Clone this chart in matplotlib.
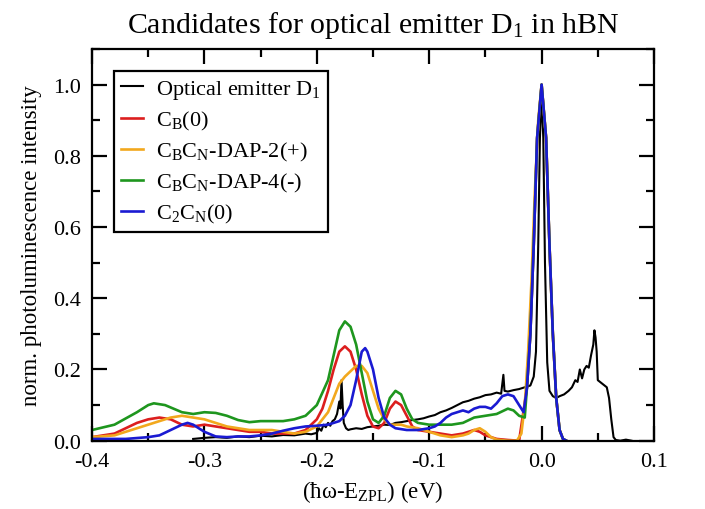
import matplotlib
matplotlib.use("Agg")
import matplotlib.pyplot as plt
from matplotlib.ticker import MultipleLocator, FuncFormatter

plt.rcParams['font.family'] = ['Liberation Serif', 'DejaVu Serif']
plt.rcParams['mathtext.fontset'] = 'custom'
plt.rcParams['mathtext.rm'] = 'Liberation Serif'
plt.rcParams['mathtext.it'] = 'Liberation Serif:italic'
plt.rcParams['mathtext.bf'] = 'Liberation Serif:bold'

# ---------------- data ----------------
black_x = [-0.31, -0.30, -0.29, -0.28, -0.27, -0.26, -0.25, -0.24, -0.23, -0.22, -0.21, -0.205,
           -0.20, -0.198, -0.196, -0.194, -0.192, -0.19, -0.188, -0.186, -0.184, -0.182, -0.180,
           -0.179, -0.178, -0.177, -0.176, -0.174, -0.172, -0.17, -0.165, -0.16, -0.155, -0.15,
           -0.145, -0.14, -0.135, -0.13, -0.125, -0.12, -0.115, -0.11, -0.105, -0.10, -0.095,
           -0.09, -0.085, -0.08, -0.075, -0.07, -0.065, -0.06, -0.055, -0.05, -0.045, -0.04,
           -0.036, -0.034, -0.033, -0.03, -0.025, -0.02, -0.015, -0.01, -0.007, -0.005, -0.003,
           -0.0015, 0.0, 0.0015, 0.003, 0.005, 0.007, 0.01, 0.013, 0.016, 0.02, 0.024, 0.027,
           0.03, 0.032, 0.034, 0.036, 0.038, 0.04, 0.042, 0.044, 0.046, 0.047, 0.048, 0.049,
           0.050, 0.052, 0.054, 0.056, 0.058, 0.06, 0.062, 0.064, 0.066, 0.07, 0.075, 0.08]
black_y = [0.005, 0.008, 0.010, 0.008, 0.012, 0.010, 0.014, 0.012, 0.016, 0.015, 0.020, 0.018,
           0.022, 0.035, 0.028, 0.045, 0.038, 0.05, 0.042, 0.055, 0.06, 0.075, 0.11,
           0.09, 0.17, 0.10, 0.05, 0.035, 0.03, 0.032, 0.035, 0.033, 0.038, 0.04,
           0.042, 0.045, 0.044, 0.05, 0.052, 0.055, 0.058, 0.06, 0.063, 0.068, 0.072,
           0.08, 0.085, 0.092, 0.10, 0.108, 0.112, 0.118, 0.122, 0.128, 0.13, 0.135,
           0.132, 0.185, 0.14, 0.138, 0.142, 0.145, 0.15, 0.155, 0.18, 0.25, 0.55,
           0.85, 0.97, 0.85, 0.5, 0.22, 0.14, 0.125, 0.12, 0.125, 0.13, 0.14, 0.15,
           0.17, 0.165, 0.2, 0.175, 0.2, 0.21, 0.205, 0.24, 0.27, 0.31, 0.29, 0.25,
           0.17, 0.165, 0.16, 0.155, 0.15, 0.12, 0.06, 0.01, 0.002, 0.0, 0.003, 0.0]

red_x = [-0.40, -0.38, -0.37, -0.36, -0.35, -0.34, -0.33, -0.32, -0.31, -0.30, -0.29, -0.28,
         -0.27, -0.26, -0.25, -0.24, -0.23, -0.22, -0.21, -0.20, -0.195, -0.19, -0.185, -0.18,
         -0.175, -0.17, -0.165, -0.16, -0.155, -0.15, -0.145, -0.14, -0.135, -0.13, -0.125,
         -0.12, -0.115, -0.11, -0.10, -0.09, -0.08, -0.07, -0.06, -0.055, -0.05, -0.04, -0.03,
         -0.02, -0.013, -0.01, -0.007, -0.004, 0.0, 0.004, 0.007, 0.01, 0.013, 0.016, 0.019, 0.022]
red_y = [0.01, 0.02, 0.035, 0.05, 0.06, 0.065, 0.06, 0.045, 0.04, 0.045, 0.04, 0.035,
         0.03, 0.025, 0.025, 0.02, 0.02, 0.02, 0.03, 0.06, 0.09, 0.14, 0.2, 0.25,
         0.265, 0.25, 0.2, 0.13, 0.07, 0.04, 0.035, 0.05, 0.09, 0.11, 0.10,
         0.07, 0.04, 0.03, 0.025, 0.02, 0.015, 0.02, 0.03, 0.025, 0.015, 0.005, 0.002,
         0.0, 0.15, 0.3, 0.55, 0.85, 1.0, 0.85, 0.55, 0.3, 0.12, 0.03, 0.005, 0.0]

orange_x = [-0.40, -0.38, -0.37, -0.36, -0.35, -0.34, -0.33, -0.32, -0.31, -0.30, -0.29, -0.28,
            -0.27, -0.26, -0.25, -0.24, -0.23, -0.22, -0.21, -0.20, -0.19, -0.185, -0.18, -0.175,
            -0.17, -0.165, -0.16, -0.155, -0.15, -0.145, -0.14, -0.135, -0.13, -0.125, -0.12,
            -0.11, -0.10, -0.09, -0.08, -0.07, -0.065, -0.06, -0.055, -0.05, -0.045, -0.04, -0.03,
            -0.022, -0.018, -0.015, -0.012, -0.009, -0.006, -0.003, 0.0, 0.004, 0.007, 0.01,
            0.013, 0.016, 0.019, 0.022]
orange_y = [0.01, 0.015, 0.025, 0.035, 0.045, 0.055, 0.065, 0.07, 0.065, 0.06, 0.05, 0.04,
            0.035, 0.03, 0.03, 0.03, 0.025, 0.02, 0.025, 0.04, 0.08, 0.12, 0.16, 0.18,
            0.195, 0.21, 0.21, 0.19, 0.14, 0.09, 0.06, 0.045, 0.045, 0.045, 0.04,
            0.035, 0.025, 0.015, 0.01, 0.015, 0.02, 0.03, 0.035, 0.025, 0.01, 0.003, 0.0,
            0.0, 0.02, 0.1, 0.25, 0.45, 0.7, 0.9, 1.0, 0.85, 0.55, 0.3,
            0.12, 0.03, 0.005, 0.0]

green_x = [-0.40, -0.38, -0.36, -0.35, -0.345, -0.335, -0.32, -0.31, -0.30, -0.29, -0.28, -0.27,
           -0.26, -0.25, -0.24, -0.23, -0.22, -0.21, -0.20, -0.19, -0.185, -0.18, -0.175, -0.17,
           -0.165, -0.16, -0.155, -0.15, -0.145, -0.14, -0.135, -0.13, -0.125, -0.12, -0.115,
           -0.11, -0.10, -0.09, -0.08, -0.07, -0.06, -0.05, -0.04, -0.03, -0.025, -0.02, -0.015,
           -0.013, -0.01, -0.007, -0.004, 0.0, 0.004, 0.007, 0.01, 0.013, 0.016, 0.019, 0.022]
green_y = [0.03, 0.045, 0.08, 0.10, 0.105, 0.10, 0.08, 0.075, 0.08, 0.078, 0.07, 0.058,
           0.052, 0.055, 0.055, 0.055, 0.06, 0.07, 0.10, 0.17, 0.24, 0.31, 0.335, 0.32,
           0.27, 0.19, 0.11, 0.06, 0.05, 0.07, 0.12, 0.14, 0.13, 0.09, 0.06,
           0.05, 0.045, 0.045, 0.045, 0.05, 0.065, 0.07, 0.075, 0.09, 0.085, 0.07, 0.065,
           0.15, 0.3, 0.55, 0.85, 1.0, 0.85, 0.55, 0.3, 0.12, 0.03, 0.005, 0.0]

blue_x = [-0.40, -0.37, -0.35, -0.34, -0.33, -0.32, -0.315, -0.31, -0.30, -0.29, -0.28, -0.27,
          -0.26, -0.25, -0.24, -0.23, -0.22, -0.21, -0.20, -0.19, -0.18, -0.175, -0.17, -0.165,
          -0.16, -0.157, -0.155, -0.15, -0.145, -0.14, -0.135, -0.13, -0.12, -0.11, -0.10,
          -0.095, -0.09, -0.085, -0.08, -0.075, -0.07, -0.065, -0.06, -0.055, -0.05, -0.045,
          -0.04, -0.035, -0.03, -0.025, -0.02, -0.016, -0.013, -0.01, -0.007, -0.004, 0.0,
          0.004, 0.007, 0.01, 0.013, 0.016, 0.019, 0.022]
blue_y = [0.005, 0.005, 0.01, 0.015, 0.03, 0.045, 0.05, 0.045, 0.025, 0.012, 0.01, 0.012,
          0.012, 0.015, 0.02, 0.028, 0.035, 0.04, 0.042, 0.045, 0.055, 0.07, 0.10, 0.17,
          0.25, 0.26, 0.25, 0.2, 0.12, 0.065, 0.045, 0.035, 0.03, 0.03, 0.035,
          0.04, 0.05, 0.065, 0.075, 0.08, 0.085, 0.08, 0.09, 0.095, 0.095, 0.09,
          0.105, 0.125, 0.13, 0.125, 0.10, 0.08, 0.15, 0.3, 0.55, 0.85, 1.0,
          0.85, 0.55, 0.3, 0.12, 0.03, 0.005, 0.0]

labels = ['Optical emitter D$_1$', 'C$_\\mathrm{B}$(0)', 'C$_\\mathrm{B}$C$_\\mathrm{N}$-DAP-2(+)',
          'C$_\\mathrm{B}$C$_\\mathrm{N}$-DAP-4(-)', 'C$_2$C$_\\mathrm{N}$(0)']
colors = ['#000000', '#dc1e1e', '#f2a81d', '#1e961e', '#1a1ad2']

# ---------------- figure ----------------
fig = plt.figure(figsize=(7.05, 5.1), dpi=100)
ax = fig.add_axes([92/705, 1 - 441.7/510, (654-92)/705, (441.7-50)/510])

series = [(black_x, black_y), (red_x, red_y), (orange_x, orange_y), (green_x, green_y), (blue_x, blue_y)]
for (xs, ys), lab, col in zip(series, labels, colors):
    lw = 1.5 if col == '#000000' else 1.9
    ax.plot(xs, ys, color=col, lw=lw, label=lab)

ax.set_xlim(-0.4, 0.1)
ax.set_ylim(0.0, 1.1)
ax.xaxis.set_major_locator(MultipleLocator(0.1))
ax.xaxis.set_minor_locator(MultipleLocator(0.05))
ax.yaxis.set_major_locator(MultipleLocator(0.2))
ax.yaxis.set_minor_locator(MultipleLocator(0.1))
ax.tick_params(which='both', direction='in', top=True, right=True, width=1.6, labelsize=16)
ax.tick_params(which='major', length=11, pad=8)
ax.tick_params(which='minor', length=6)
ax.xaxis.set_major_formatter(FuncFormatter(lambda v, p: f"{v:.1f}".replace('-0.0', '0.0')))
ax.yaxis.set_major_formatter(FuncFormatter(lambda v, p: f"{v:.1f}"))
for s in ax.spines.values():
    s.set_linewidth(1.6)

ax.set_xlabel('(ħω-E$_\\mathrm{ZPL}$) (eV)', fontsize=16.5, labelpad=5)
ax.set_ylabel('norm. photoluminescence intensity', fontsize=16.5, labelpad=8)
ax.set_title('Candidates for optical emitter D$_1$ in hBN', fontsize=21.5, pad=12)

leg = ax.legend(loc='upper left', fontsize=16, frameon=True, fancybox=False, edgecolor='black',
                framealpha=1.0, handlelength=1.0, handletextpad=0.6, borderaxespad=1.0,
                labelspacing=0.36, borderpad=0.3)
leg.get_frame().set_linewidth(1.6)

fig.savefig('out.png', dpi=100)
